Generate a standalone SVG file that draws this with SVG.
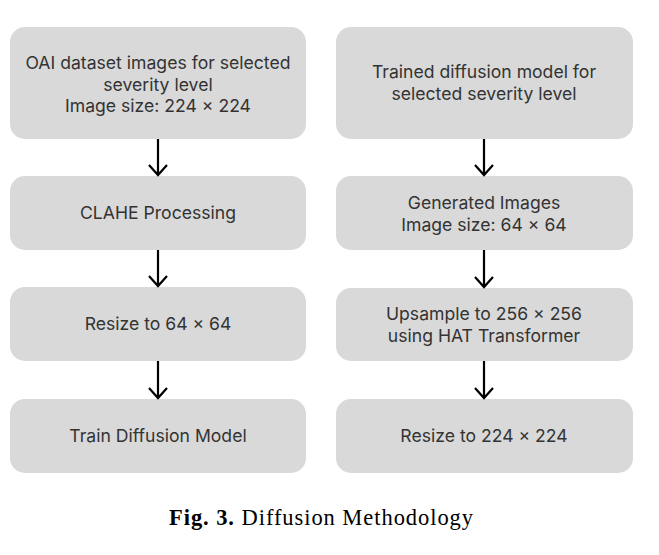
<svg xmlns="http://www.w3.org/2000/svg" width="659" height="555" viewBox="0 0 659 555">
<defs>
<style>
.box{fill:#d9d9d9;}
.t{font-family:Inter,"Liberation Sans",sans-serif;font-size:17.6px;fill:#333;text-anchor:middle;}
.c{stroke:#000;stroke-width:2.2;fill:none;}
.cap{font-family:"Liberation Serif",serif;font-size:22.5px;fill:#000;}
</style>
</defs>
<rect width="659" height="555" fill="#fff"/>
<g id="n1"><rect class="box" x="10" y="27" width="296" height="112" rx="15"/>
<text class="t" x="158" y="69">OAI dataset images for selected</text>
<text class="t" x="158" y="91">severity level</text>
<text class="t" x="158" y="112">Image size: 224 × 224</text></g>
<g id="n2"><rect class="box" x="10" y="176" width="296" height="74" rx="15"/>
<text class="t" x="158" y="219">CLAHE Processing</text></g>
<g id="n3"><rect class="box" x="10" y="287" width="296" height="74" rx="15"/>
<text class="t" x="158" y="330">Resize to 64 × 64</text></g>
<g id="n4"><rect class="box" x="10" y="399" width="296" height="74" rx="15"/>
<text class="t" x="158" y="442">Train Diffusion Model</text></g>
<g id="n5"><rect class="box" x="336" y="27" width="297" height="112" rx="15"/>
<text class="t" x="484" y="78">Trained diffusion model for</text>
<text class="t" x="484" y="100">selected severity level</text></g>
<g id="n6"><rect class="box" x="336" y="176" width="297" height="74" rx="15"/>
<text class="t" x="484" y="209">Generated Images</text>
<text class="t" x="484" y="231">Image size: 64 × 64</text></g>
<g id="n7"><rect class="box" x="336" y="288" width="297" height="73" rx="15"/>
<text class="t" x="484" y="320">Upsample to 256 × 256</text>
<text class="t" x="484" y="342">using HAT Transformer</text></g>
<g id="n8"><rect class="box" x="336" y="399" width="297" height="74" rx="15"/>
<text class="t" x="484" y="442">Resize to 224 × 224</text></g>
<g id="connectors" class="c">
<path d="M158 139V175M149 165L158 175L167 165"/>
<path d="M158 250V286M149 276L158 286L167 276"/>
<path d="M158 361V398M149 388L158 398L167 388"/>
<path d="M484 139V175M475 165L484 175L493 165"/>
<path d="M484 250V287M475 277L484 287L493 277"/>
<path d="M484 361V398M475 388L484 398L493 388"/>
</g>
<text class="cap" x="169" y="525" textLength="304" lengthAdjust="spacing"><tspan font-weight="bold">Fig. 3.</tspan> Diffusion Methodology</text>
</svg>
